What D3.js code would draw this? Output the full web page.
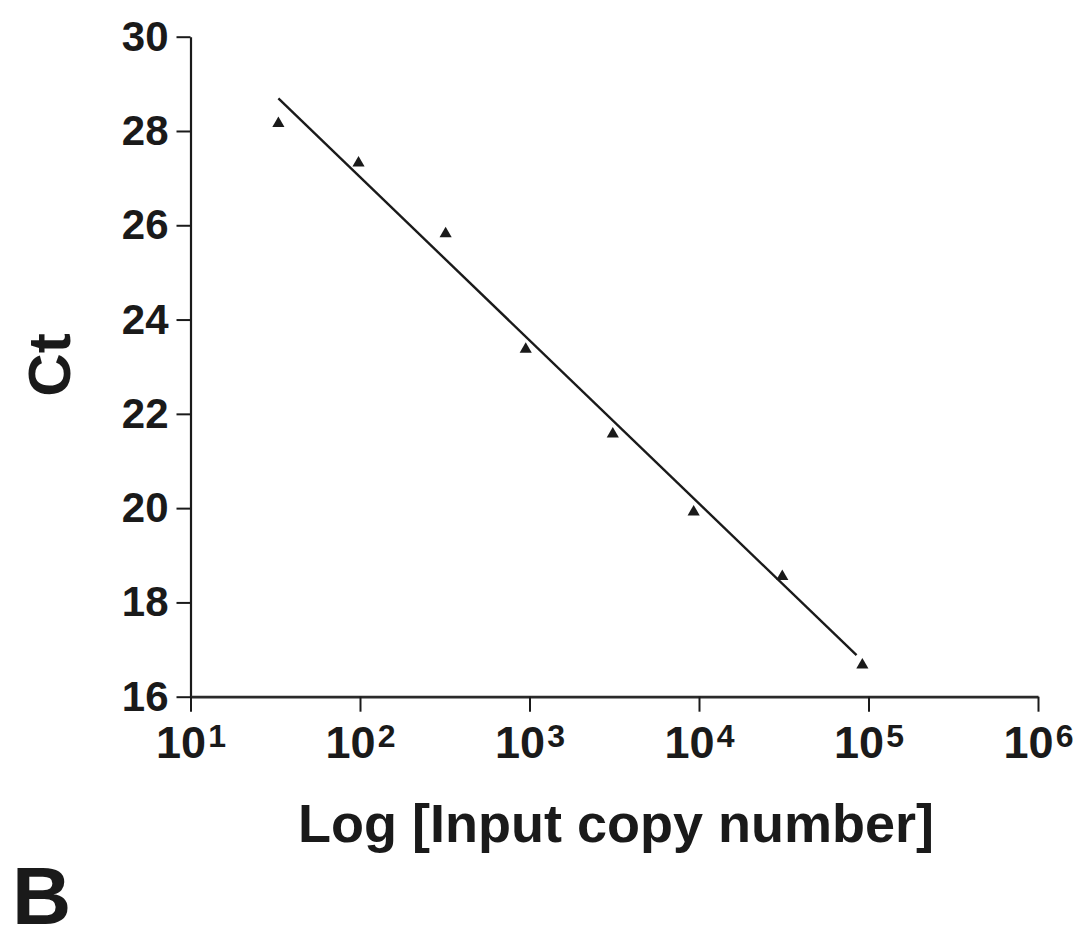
<!DOCTYPE html>
<html>
<head>
<meta charset="utf-8">
<script src="https://cdn.jsdelivr.net/npm/d3@7"></script>
<style>
  html, body { margin: 0; padding: 0; background: #fff; }
  svg { display: block; }
  text { font-family: "Liberation Sans", Arial, sans-serif; font-weight: bold; fill: #1a1a1a; }
</style>
</head>
<body>
<svg id="chart"></svg>
<script>
// copy number vs threshold cycle
const copies = [33, 98, 320, 950, 3100, 9300, 31000, 92000];
const ct = [28.16, 27.32, 25.82, 23.37, 21.57, 19.92, 18.55, 16.67];

// fitted standard curve, drawn end to end
const fitCopies = [33, 85000];
const fitCt = [28.69, 16.88];

const yTicks = [16, 18, 20, 22, 24, 26, 28, 30];
const xExponents = [1, 2, 3, 4, 5, 6];

const width = 1081;
const height = 944;
const inkColor = "#1a1a1a";

const svg = d3.select("#chart")
  .attr("width", width)
  .attr("height", height);

const x = d3.scaleLog()
  .domain([10, 1e6])
  .range([190.5, 1038]);

const y = d3.scaleLinear()
  .domain([16, 30])
  .range([696.7, 36.7]);

// y axis
const yAxis = svg.append("g")
  .attr("transform", `translate(${x(10)},0)`)
  .call(d3.axisLeft(y).tickValues(yTicks).tickSize(14).tickSizeOuter(0).tickPadding(8));

yAxis.select(".domain").attr("stroke", inkColor).attr("stroke-width", 2.2);
yAxis.selectAll(".tick line").attr("stroke", inkColor).attr("stroke-width", 2);
yAxis.selectAll(".tick text")
  .style("font-size", "42px")
  .attr("fill", inkColor);

// x axis with powers of ten
const xAxis = svg.append("g")
  .attr("transform", `translate(0,${y(16)})`)
  .call(d3.axisBottom(x).tickValues(xExponents.map(e => Math.pow(10, e)))
    .tickSize(15).tickSizeOuter(0).tickPadding(14).tickFormat(() => ""));

xAxis.select(".domain").attr("stroke", "#2a2a2a").attr("stroke-width", 2.8);
xAxis.selectAll(".tick line").attr("stroke", inkColor).attr("stroke-width", 2);

xAxis.selectAll(".tick text")
  .attr("fill", inkColor)
  .attr("dy", "0.71em")
  .style("font-size", "45px")
  .each(function(d) {
    const t = d3.select(this).text("");
    t.append("tspan").text("10");
    t.append("tspan")
      .attr("dx", "2")
      .attr("dy", "-0.32em")
      .style("font-size", "32px")
      .text(Math.round(Math.log10(d)));
  });

// fit line
const line = d3.line()
  .x(d => x(d[0]))
  .y(d => y(d[1]));

svg.append("path")
  .datum(d3.zip(fitCopies, fitCt))
  .attr("d", line)
  .attr("fill", "none")
  .attr("stroke", inkColor)
  .attr("stroke-width", 2.4);

// triangles
svg.append("g")
  .selectAll("path")
  .data(d3.zip(copies, ct))
  .join("path")
  .attr("transform", d => `translate(${x(d[0])},${y(d[1])})`)
  .attr("d", d3.symbol().type(d3.symbolTriangle).size(64))
  .attr("fill", inkColor);

// axis titles
svg.append("text")
  .attr("transform", "translate(70,365) rotate(-90)")
  .attr("text-anchor", "middle")
  .style("font-size", "60px")
  .text("Ct");

svg.append("text")
  .attr("x", 616)
  .attr("y", 842)
  .attr("text-anchor", "middle")
  .style("font-size", "54px")
  .text("Log [Input copy number]");

// panel letter
svg.append("text")
  .attr("x", 12)
  .attr("y", 924)
  .style("font-size", "82px")
  .text("B");
</script>
</body>
</html>
